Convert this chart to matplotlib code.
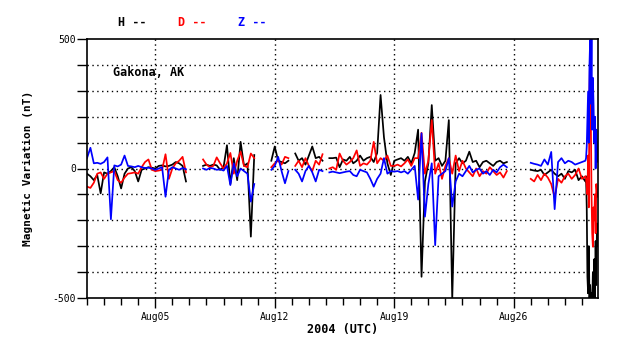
import numpy as np
import matplotlib
matplotlib.use("Agg")
import matplotlib.pyplot as plt

nan = np.nan

# ---- data: days since 2004-08-01 00:00 UTC, 0.2 day sampling, finer during final storm
H_s1 = [-20, -30, -45, -25, -96, -15, -20, -10, 5, -30, -77, -20, 0, 5, -10,
        -50, -5, 0, 5, 3, 0, 10, 12, 8, 10, 15, 25, 20, 10, -50]
D_s1 = [-70, -75, -55, -20, -15, -40, -20, -15, -10, -45, -55, -35, -20, -18, -15,
        -20, 5, 25, 35, -5, -10, -8, -5, 55, -40, 0, 20, 30, 45, -15]
Z_s1 = [40, 80, 20, 22, 18, 25, 43, -196, 12, 8, 15, 50, 10, 8, 5,
        10, 5, 2, 3, 0, -5, 0, 5, -109, -5, 5, 0, -5, 2, -3]

H_s2 = [10, 15, 10, 15, 12, -5, 5, 90, -60, 40, -45, 103, 10, 20, -263, 52]
D_s2 = [35, 15, 5, 10, 43, 20, 0, 20, 60, -20, 30, 65, 10, 5, 58, 40]
Z_s2 = [0, -5, 2, 0, -5, -3, -8, 10, -64, 20, -30, 0, -10, -20, -128, -60]

H_s3 = [30, 85, 30, 25, 20, 30, nan, 58, 30, 40, 15, 50, 85, 40, 45, 30, nan,
        40, 40, 42, 5, 35, 30, 45, 20, 30, 50, 30, 40, 45, 25, 60, 284, 120,
        20, -25, 30, 35, 40, 30, 45, 20, 60, 150, -418, -50, 20, 245, 30, 40,
        10, 30, 187, -505, 20, 40, 20, 30, 65, 25, 30, 5, 25, 30, 20, 10, 25,
        30, 20, 25]
D_s3 = [5, 20, 30, 15, 45, 40, nan, 10, 30, 5, 40, 10, -10, 30, 15, 55, nan,
        0, 5, -5, 58, 30, 15, 25, 40, 70, 10, 20, 15, 30, 103, 20, 40, 30,
        50, 10, 10, 15, 8, 20, 35, 10, 40, 40, 138, -20, 30, 187, -20, 20,
        -40, 10, 40, -20, 50, -10, 30, 0, -15, -30, 0, -30, -10, -20, 5, -10,
        -25, -15, -35, -10]
Z_s3 = [-5, 10, 45, -10, -57, -10, nan, -5, -20, -50, -10, 10, -15, -50, -5, -10, nan,
        -15, -12, -15, -18, -15, -12, -10, -25, -30, -5, -10, -15, -40, -70, -40,
        -20, 40, -20, -10, -12, -10, -15, -10, -20, -5, 10, -120, 136, -186, -60,
        20, -296, -30, -20, -10, 40, -147, -50, -20, -30, -10, 10, -15, -5, 0,
        -20, -10, -25, -5, -15, 5, 15, 5]

H_s4 = [-5, -8, -10, -5, -25, -15, -5, -20, -30, -20, -40, -10, -15, -5, -45, -30, -50]
D_s4 = [-40, -50, -25, -45, -20, -35, -60, -112, -40, -55, -30, -20, -40, -25, 0, -40, -30]
Z_s4 = [22, 18, 15, 10, 35, 15, 64, -157, 25, 40, 20, 30, 25, 15, 20, 25, 30]

H_storm = [-30, -150, -418, -482, -300, -500, -450, -520, -480, -520, -400, -520,
           -350, -500, -280, -450, -212, -300]
D_storm = [-40, -70, -100, 50, -150, 300, 451, 200, -100, -250, -302, -150,
           -200, -100, -250, -60, -90, -109]
Z_storm = [40, 85, 200, 297, 100, 400, 496, 250, 500, 150, 350, 245,
           100, 200, 0, 150, 97, 26]

tick_days = [4, 11, 18, 25]
tick_labels = ["Aug05", "Aug12", "Aug19", "Aug26"]
station = "Gakona, AK"

def build(s1, s2, s3, s4, st):
    return np.array(s1 + [nan] * 4 + s2 + [nan] * 4 + s3 + [nan] * 6 + s4 + st, float)

days = np.concatenate([np.round(np.arange(147) * 0.2, 2),
                       np.round(29.2 + np.arange(1, 19) * 0.04, 2)])
H = build(H_s1, H_s2, H_s3, H_s4, H_storm)
D = build(D_s1, D_s2, D_s3, D_s4, D_storm)
Z = build(Z_s1, Z_s2, Z_s3, Z_s4, Z_storm)
assert len(H) == len(days) == len(D) == len(Z)

# ---- figure
mono = "DejaVu Sans Mono"
fig = plt.figure(figsize=(6.38, 3.59), dpi=100)
ax = fig.add_axes([87 / 638, 1 - 298 / 359, (598 - 87) / 638, (298 - 39) / 359])

for y, c in [(H, "black"), (D, "#ff0000"), (Z, "#0000ff")]:
    ax.plot(days, y, color=c, lw=1.25)

ax.set_xlim(0, 29.94)
ax.set_ylim(-500, 500)

ax.set_yticks(np.arange(-500, 501, 100))
ax.set_yticklabels(["-500" if v == -500 else "0" if v == 0 else "500" if v == 500 else ""
                    for v in range(-500, 501, 100)])
ax.set_xticks(tick_days)
ax.set_xticklabels(tick_labels)
ax.set_xticks(np.arange(0, 30, 1), minor=True)

ax.tick_params(axis="y", which="major", length=7, width=1, labelsize=7, pad=1)
ax.tick_params(axis="x", which="major", length=7, width=1, labelsize=7, pad=3)
ax.tick_params(axis="x", which="minor", length=5, width=1)
for lab in ax.get_xticklabels() + ax.get_yticklabels():
    lab.set_family(mono)

for v in range(-400, 500, 100):
    ax.axhline(v, color="black", lw=1, ls=(0, (1, 2.5)), zorder=0)
for d in tick_days:
    ax.axvline(d, color="black", lw=1, ls=(0, (1, 2.5)), zorder=0)

for sp in ax.spines.values():
    sp.set_linewidth(1.2)

ax.set_xlabel("2004 (UTC)", family=mono, fontweight="bold", fontsize=8.5, labelpad=1)
ax.set_ylabel("Magnetic Variation (nT)", family=mono, fontweight="bold", fontsize=8, labelpad=14)

ax.text(113 / 638, 1 - 72 / 359, station, transform=fig.transFigure, family=mono,
        fontweight="bold", fontsize=8.5, va="center", ha="left")

for x, s, c in [(118, "H --", "black"), (178, "D --", "#ff0000"), (238, "Z --", "#0000ff")]:
    fig.text(x / 638, 1 - 23 / 359, s, color=c, family=mono, fontweight="bold",
             fontsize=8.5, va="center", ha="left")

fig.savefig("out.png", dpi=100)
